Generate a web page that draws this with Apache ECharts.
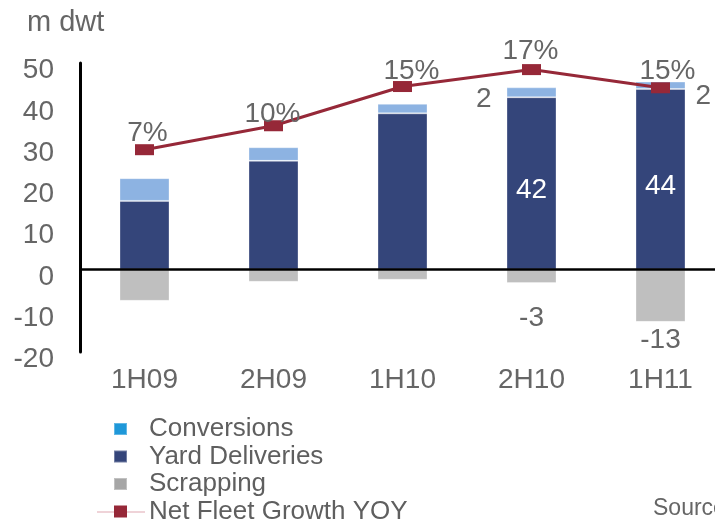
<!DOCTYPE html>
<html>
<head>
<meta charset="utf-8">
<script src="https://cdn.jsdelivr.net/npm/echarts@6/dist/echarts.min.js"></script>
<style>
html,body{margin:0;padding:0;background:#fff;}
#c{width:715px;height:526px;}
</style>
</head>
<body>
<div id="c"></div>
<script>
const categories = ['1H09', '2H09', '1H10', '2H10', '1H11'];
const conversions = [5.5, 3.3, 2.3, 2.4, 1.8];
const yardDeliveries = [16.6, 26.3, 37.8, 41.7, 43.7];
const scrapping = [-7.6, -3.0, -2.5, -3.3, -12.7];
const netFleetGrowth = [7.0, 9.9, 14.65, 16.7, 14.5];
const yTicks = { min: -20, max: 50, interval: 10 };
const showYardLabel = [false, false, false, true, true];
const convLabelSide = [null, null, null, 'left', 'right'];
const showScrapLabel = [false, false, false, true, true];

const FONT = '"Liberation Sans", Arial, sans-serif';
const GREY = '#666666';

// label nudges (styling only)
const growthLabelOffsets = [[3, 4], [-1, 9], [9, 5], [-1, 2], [7, 4]];

const chart = echarts.init(document.getElementById('c'), null, { renderer: 'canvas' });

const yardData = yardDeliveries.map((v, i) => ({
  value: v,
  label: {
    show: showYardLabel[i], position: 'inside', offset: [0, 7],
    color: '#ffffff', fontSize: 28, fontFamily: FONT,
    formatter: p => Math.round(p.value)
  }
}));
const convData = conversions.map((v, i) => ({
  value: v,
  label: convLabelSide[i] ? {
    show: true, position: convLabelSide[i],
    distance: convLabelSide[i] === 'left' ? 15 : 10,
    offset: [0, convLabelSide[i] === 'left' ? 7 : 11],
    color: GREY, fontSize: 28, fontFamily: FONT,
    formatter: p => Math.round(p.value)
  } : { show: false }
}));
const scrapData = scrapping.map((v, i) => ({
  value: v,
  label: {
    show: showScrapLabel[i], position: 'bottom',
    distance: i === 3 ? 21 : 4,
    color: GREY, fontSize: 28, fontFamily: FONT,
    formatter: p => Math.round(p.value)
  }
}));
const growthData = netFleetGrowth.map((v, i) => ({
  value: v,
  label: { offset: growthLabelOffsets[i] }
}));

const option = {
  animation: false,
  backgroundColor: '#ffffff',
  title: [
    { text: 'm dwt', left: 27, top: 8, padding: 0,
      textStyle: { fontSize: 29, fontWeight: 'normal', color: GREY, fontFamily: FONT } },
    { text: 'Source: Clarksons', left: 653, top: 497, padding: 0,
      textStyle: { fontSize: 23, fontWeight: 'normal', color: GREY, fontFamily: FONT } }
  ],
  legend: {
    orient: 'vertical',
    left: 113, top: 416, height: 200,
    padding: 0,
    itemWidth: 13, itemHeight: 12,
    itemGap: 1.5,
    selectedMode: false,
    textStyle: { fontSize: 26, color: '#5f5f5f', fontFamily: FONT, lineHeight: 18, padding: [8, 0, 0, 17] },
    data: [
      { name: 'Conversions', icon: 'rect', itemStyle: { color: '#1f98d9' } },
      { name: 'Yard Deliveries', icon: 'rect', itemStyle: { color: '#34457a' } },
      { name: 'Scrapping', icon: 'rect', itemStyle: { color: '#a6a6a6' } },
      { name: 'Net Fleet Growth YOY', icon: 'rect', itemStyle: { color: '#962838' } }
    ]
  },
  graphic: [
    { type: 'line', z: -1, shape: { x1: 97, y1: 512, x2: 145, y2: 512 },
      style: { stroke: 'rgba(190,80,100,0.25)', lineWidth: 2 } }
  ],
  grid: { left: 80, top: 63, width: 645, height: 289, containLabel: false, outerBoundsMode: 'none' },
  xAxis: {
    type: 'category',
    data: categories,
    axisLine: { show: false },
    axisTick: { show: false },
    axisLabel: { fontSize: 28, color: GREY, fontFamily: FONT, margin: 14 }
  },
  yAxis: [
    {
      type: 'value', min: yTicks.min, max: yTicks.max, interval: yTicks.interval,
      axisLine: { show: true, lineStyle: { color: '#000', width: 3 } },
      axisTick: { show: false },
      splitLine: { show: false },
      axisLabel: { fontSize: 28, color: GREY, fontFamily: FONT, margin: 26, verticalAlign: 'top', lineHeight: 15 }
    },
    {
      type: 'value', min: -17.5, max: 17.5, show: false,
      splitLine: { show: false }
    }
  ],
  series: [
    {
      name: 'Yard Deliveries', type: 'bar', stack: 's', barWidth: 50,
      itemStyle: { color: '#34457a', borderColor: 'rgba(255,255,255,0.3)', borderWidth: 1 },
      data: yardData,
      markLine: {
        silent: true, symbol: 'none', animation: false,
        label: { show: false },
        lineStyle: { color: '#000', width: 2.5, type: 'solid' },
        data: [{ yAxis: 0 }]
      }
    },
    {
      name: 'Conversions', type: 'bar', stack: 's', barWidth: 50,
      itemStyle: { color: '#8db3e2', borderColor: 'rgba(255,255,255,0.3)', borderWidth: 1 },
      data: convData
    },
    {
      name: 'Scrapping', type: 'bar', stack: 's', barWidth: 50,
      itemStyle: { color: '#bfbfbf', borderColor: 'rgba(255,255,255,0.3)', borderWidth: 1 },
      data: scrapData
    },
    {
      name: 'Net Fleet Growth YOY', type: 'line', yAxisIndex: 1,
      data: growthData,
      symbol: 'rect', symbolSize: [19, 11],
      itemStyle: { color: '#962838' },
      lineStyle: { color: '#962838', width: 3 },
      z: 5,
      label: {
        show: true, position: 'top', distance: 1,
        color: GREY, fontSize: 28, fontFamily: FONT,
        formatter: p => Math.round(p.value) + '%'
      }
    }
  ]
};
chart.setOption(option);
</script>
</body>
</html>
